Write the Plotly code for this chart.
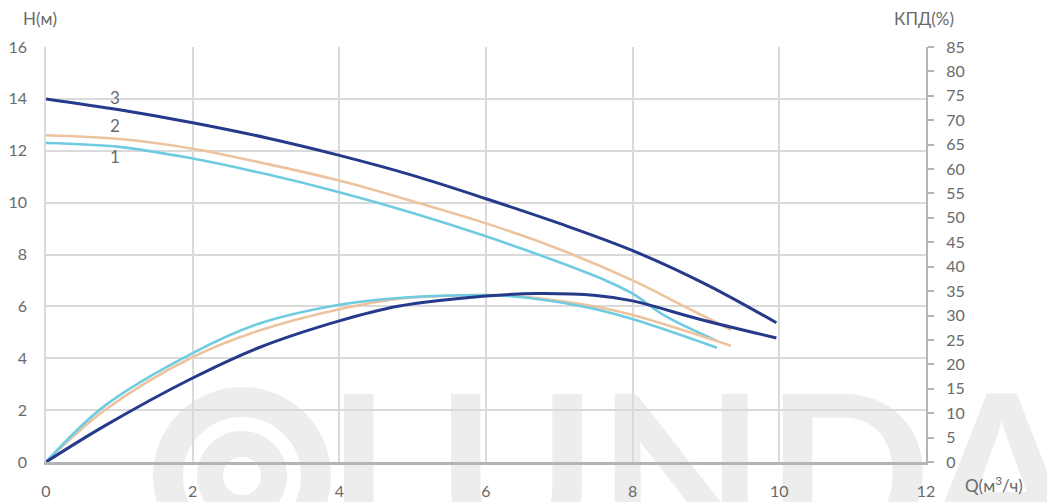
import plotly.graph_objects as go

# Head curves H(Q), m
q_head_1 = [0, 1, 2, 3, 4, 5, 6, 7, 7.64, 8.0, 8.45, 9.15]
h_head_1 = [12.3, 12.15, 11.7, 11.1, 10.4, 9.6, 8.7, 7.7, 6.99, 6.49, 5.62, 4.67]

q_head_2 = [0, 1, 2, 3, 4, 5, 6, 7, 8, 8.67, 9.34]
h_head_2 = [12.6, 12.45, 12.08, 11.5, 10.85, 10.05, 9.2, 8.2, 7.0, 6.05, 5.1]

q_head_3 = [0, 1, 2, 3, 4, 5, 6, 7, 8, 9, 9.96]
h_head_3 = [14.0, 13.58, 13.08, 12.5, 11.82, 11.05, 10.15, 9.2, 8.15, 6.85, 5.37]

# Efficiency curves, %
q_eff_1 = [0, 0.8, 2, 2.9, 4, 4.8, 5.5, 6.2, 7.27, 7.95, 9.15]
eff_1 = [0, 11.5, 22.3, 28.3, 32.2, 33.6, 34.1, 34.1, 32.0, 29.5, 23.4]

q_eff_2 = [0, 0.8, 2, 2.9, 4, 4.8, 5.6, 6.3, 7.27, 7.95, 9.34]
eff_2 = [0, 10.6, 21.5, 26.9, 31.3, 33.4, 34.1, 34.1, 32.4, 30.3, 23.8]

q_eff_3 = [0, 0.8, 2, 2.9, 4, 4.8, 6, 6.7, 7.5, 8, 8.9, 9.96]
eff_3 = [0, 7.4, 17.2, 23.4, 28.9, 31.9, 34.0, 34.5, 34.1, 33.0, 29.3, 25.4]

curve_labels = ["1", "2", "3"]
label_q = [0.94, 0.94, 0.94]
label_h = [11.7, 12.9, 13.95]

x_ticks = [0, 2, 4, 6, 8, 10, 12]
h_ticks = list(range(0, 17, 2))
eff_ticks = list(range(0, 86, 5))

C1 = "#6fcbe0"
C2 = "#edc39f"
C3 = "#253a8a"
TXT = "#6a6a6a"
GRID = "#dadada"
AX = "#b4b4b4"
WM = "#ededed"
FONT = "Lato"

fig = go.Figure()

for q, h, c, w in [(q_head_1, h_head_1, C1, 2.6), (q_head_2, h_head_2, C2, 2.6),
                   (q_head_3, h_head_3, C3, 3)]:
    fig.add_trace(go.Scatter(x=q, y=h, mode="lines", yaxis="y",
                             line=dict(color=c, width=w, shape="spline", smoothing=1),
                             showlegend=False, hoverinfo="skip"))

for q, e, c, w in [(q_eff_2, eff_2, C2, 2.6), (q_eff_1, eff_1, C1, 2.6),
                   (q_eff_3, eff_3, C3, 3)]:
    fig.add_trace(go.Scatter(x=q, y=e, mode="lines", yaxis="y2",
                             line=dict(color=c, width=w, shape="spline", smoothing=1),
                             showlegend=False, hoverinfo="skip"))

fig.add_trace(go.Scatter(x=label_q, y=label_h, mode="text", text=curve_labels,
                         textfont=dict(family=FONT, size=17, color=TXT),
                         yaxis="y", showlegend=False, hoverinfo="skip"))

# plot area in pixels
W, H = 1047, 502
L, R, T, B = 46, 121, 47, 40
pw, ph = W - L - R, H - T - B


def px(x):
    return (x - L) / pw


def py(y):
    return (H - B - y) / ph


shapes = [
    # brand watermark: logo rings
    dict(type="circle", xref="paper", yref="paper", layer="below",
         x0=px(168), x1=px(316), y0=py(550), y1=py(402),
         line=dict(color=WM, width=30), fillcolor="rgba(0,0,0,0)"),
    dict(type="circle", xref="paper", yref="paper", layer="below",
         x0=px(210), x1=px(274), y0=py(508), y1=py(444),
         line=dict(color=WM, width=26), fillcolor="rgba(0,0,0,0)"),
    # brand watermark: lettering
    dict(type="rect", xref="paper", yref="paper", layer="below",
         x0=px(352), x1=px(1052), y0=py(564), y1=py(364),
         line=dict(width=0), fillcolor="rgba(0,0,0,0)",
         label=dict(text="LUNDA", textposition="middle center",
                    font=dict(family=FONT, size=218, color=WM, weight=700))),
]

annotations = [
    dict(text="H(м)", xref="paper", yref="paper", x=px(21), y=py(18),
         xanchor="left", yanchor="middle", showarrow=False,
         font=dict(family=FONT, size=17, color=TXT)),
    dict(text="КПД(%)", xref="paper", yref="paper", x=px(892), y=py(18),
         xanchor="left", yanchor="middle", showarrow=False,
         font=dict(family=FONT, size=17, color=TXT)),
    dict(text="Q(м<sup>3</sup>/ч)", xref="paper", yref="paper", x=px(963), y=py(484),
         xanchor="left", yanchor="middle", showarrow=False,
         font=dict(family=FONT, size=17, color=TXT)),
]

fig.update_layout(
    width=W, height=H,
    margin=dict(l=L, r=R, t=T, b=B, autoexpand=False),
    paper_bgcolor="white", plot_bgcolor="white",
    font=dict(family=FONT, size=16, color=TXT),
    shapes=shapes, annotations=annotations,
    xaxis=dict(range=[0, 12], tickvals=x_ticks, showgrid=True, gridcolor=GRID,
               gridwidth=1.5, zeroline=False, showline=True, linecolor=AX,
               linewidth=3, ticks="", ticklabelstandoff=13, automargin=False,
               tickfont=dict(family=FONT, size=16, color=TXT)),
    yaxis=dict(range=[0, 16], tickvals=h_ticks, showgrid=True, gridcolor=GRID,
               gridwidth=1.5, zeroline=False, showline=True, linecolor=GRID,
               linewidth=1.5, ticks="", ticklabelstandoff=14, automargin=False,
               tickfont=dict(family=FONT, size=16, color=TXT)),
    yaxis2=dict(range=[0, 85], tickvals=eff_ticks, overlaying="y", side="right",
                showgrid=False, zeroline=False, showline=True, linecolor=AX,
                linewidth=2, ticks="outside", ticklen=6, tickcolor=AX,
                tickwidth=1.5, ticklabelstandoff=9, automargin=False,
                tickfont=dict(family=FONT, size=16, color=TXT)),
)

fig.write_html("out.html")
